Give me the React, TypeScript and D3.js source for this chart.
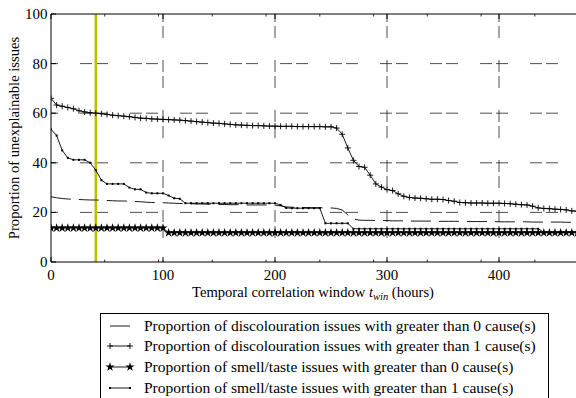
import React from 'react'
import * as d3 from 'd3'

// sampling grid of the correlation window (hours)
const hours = d3.range(0, 475, 5)

const discolourationGt0 = [
  26.3, 25.9, 25.6, 25.4, 25.3, 25.2, 25.1, 25, 25, 24.9,
  24.8, 24.7, 24.6, 24.6, 24.5, 24.4, 24.3, 24.1, 24, 23.9,
  23.9, 23.8, 23.7, 23.6, 23.5, 23.5, 23.4, 23.4, 23.3, 23.3,
  23.2, 23.2, 23.1, 23.1, 23.1, 23, 23, 23, 23, 23,
  22.9, 22.6, 22.2, 22.1, 22, 22, 21.9, 21.9, 21.9, 21.8,
  21.8, 21.6, 21, 19, 17.3, 16.9, 16.8, 16.8, 16.7, 16.7,
  16.7, 16.6, 16.6, 16.6, 16.5, 16.5, 16.5, 16.5, 16.5, 16.4,
  16.4, 16.4, 16.4, 16.4, 16.3, 16.3, 16.3, 16.3, 16.3, 16.3,
  16.2, 16.2, 16.2, 16.2, 16.2, 16.2, 16.1, 16.1, 16.1, 16.1,
  16.1, 16.1, 16, 16, 16,
]

const discolourationGt1 = [
  66, 63.3, 62.8, 62.3, 61.8, 61, 60.5, 60.2, 60, 59.8,
  59.5, 59.2, 59, 58.8, 58.6, 58.3, 58, 57.9, 57.7, 57.6,
  57.5, 57.4, 57.3, 57.2, 57, 56.8, 56.6, 56.4, 56.2, 56,
  55.9, 55.7, 55.5, 55.3, 55.2, 55.1, 55, 55, 54.9, 54.8,
  54.8, 54.7, 54.7, 54.7, 54.6, 54.6, 54.6, 54.6, 54.6, 54.5,
  54.5, 54, 51.5, 46, 41, 38.5, 38.2, 35, 31.5, 30.2,
  29.2, 28.8, 27.5, 26.5, 26, 25.8, 25.7, 25.5, 25.3, 25.3,
  25.2, 24.8, 24.5, 24, 23.9, 23.8, 23.8, 23.8, 23.7, 23.7,
  23.7, 23.6, 23.5, 23.3, 23.1, 23, 22.5, 21.8, 21.6, 21.5,
  21.3, 21.2, 21, 20.6, 20.5,
]

const smellTasteGt0 = [
  13.7, 13.7, 13.7, 13.7, 13.7, 13.7, 13.7, 13.7, 13.7, 13.7,
  13.7, 13.7, 13.7, 13.7, 13.7, 13.7, 13.7, 13.7, 13.7, 13.7,
  13.7, 11.8, 11.8, 11.8, 11.8, 11.8, 11.8, 11.8, 11.8, 11.8,
  11.8, 11.8, 11.8, 11.8, 11.8, 11.8, 11.8, 11.8, 11.8, 11.8,
  11.8, 11.8, 11.8, 11.8, 11.8, 11.8, 11.8, 11.8, 11.8, 11.8,
  11.8, 11.8, 11.8, 11.8, 11.8, 11.8, 11.8, 11.8, 11.8, 11.8,
  11.8, 11.8, 11.8, 11.8, 11.8, 11.8, 11.8, 11.8, 11.8, 11.8,
  11.8, 11.8, 11.8, 11.8, 11.8, 11.8, 11.8, 11.8, 11.8, 11.8,
  11.8, 11.8, 11.8, 11.8, 11.8, 11.8, 11.8, 11.8, 11.8, 11.8,
  11.8, 11.8, 11.8, 11.8, 11.8,
]

const smellTasteGt1 = [
  53.5, 51, 45, 42, 41.2, 41.2, 41.2, 40, 37, 33,
  31.5, 31.5, 31.5, 31.5, 30, 29.3, 29.3, 28, 27.7, 27.7,
  27.7, 26.8, 25.7, 25.5, 23.7, 23.7, 23.7, 23.7, 23.7, 23.7,
  23.7, 23.7, 23.7, 23.7, 23.7, 23.7, 23.7, 23.7, 23.7, 23.7,
  23.7, 23, 21.8, 21.7, 21.7, 21.7, 21.7, 21.7, 21.7, 15.6,
  15.6, 15.6, 15.6, 15.6, 13.4, 13.4, 13.4, 13.4, 13.4, 13.4,
  13.4, 13.4, 13.4, 13.4, 13.4, 13.4, 13.4, 13.4, 13.4, 13.4,
  13.4, 13.4, 13.4, 13.4, 13.4, 13.4, 13.4, 13.4, 13.4, 13.4,
  13.4, 13.4, 13.4, 13.4, 13.4, 13.4, 13.4, 13.4, 12, 12,
  12, 12, 12, 12, 12,
]

const xTicks = [0, 100, 200, 300, 400]
const xMinorTicks = [48, 96, 144, 192, 240, 288, 336, 384, 432]
const yTicks = [0, 20, 40, 60, 80, 100]
const highlightHour = 40

const legendLabels = [
  'Proportion of discolouration issues with greater than 0 cause(s)',
  'Proportion of discolouration issues with greater than 1 cause(s)',
  'Proportion of smell/taste issues with greater than 0 cause(s)',
  'Proportion of smell/taste issues with greater than 1 cause(s)',
]

const W = 576
const H = 398
const font = "'Liberation Serif', 'DejaVu Serif', serif"

const x = d3.scaleLinear().domain([0, 470]).range([51, 577.4])
const y = d3.scaleLinear().domain([0, 100]).range([262, 14])

const line = d3
  .line<number>()
  .x((_, i) => x(hours[i]))
  .y((d) => y(d))

const starPath = d3.symbol(d3.symbolStar, 26)() as string
const plusPath = 'M-3,0H3M0,-3V3'

const Marker = ({ kind, cx, cy }: { kind: string; cx: number; cy: number }) => {
  if (kind === 'plus')
    return <path d={plusPath} transform={`translate(${cx},${cy})`} stroke="#000" strokeWidth={0.9} fill="none" />
  if (kind === 'star') return <path d={starPath} transform={`translate(${cx},${cy})`} fill="#000" />
  if (kind === 'dot') return <rect x={cx - 1} y={cy - 1} width={2} height={2} fill="#000" />
  return null
}

const series = [
  { values: discolourationGt0, dash: '20,8', marker: 'none' },
  { values: discolourationGt1, dash: undefined, marker: 'plus' },
  { values: smellTasteGt0, dash: undefined, marker: 'star' },
  { values: smellTasteGt1, dash: undefined, marker: 'dot' },
]

export default function App() {
  const [x0, x1] = x.range()
  const [yb, yt] = y.range()
  const legendRowY = [326, 346, 367, 388]
  const tickFs = 15
  const labelFs = 14.6
  const legendFs = 15.5

  return (
    <div style={{ position: 'absolute', left: 0, top: 0 }}>
      <svg width={W} height={H} style={{ display: 'block', background: '#fff', fontFamily: font }}>
        <defs>
          <clipPath id="plot">
            <rect x={x0} y={yt - 4} width={x1 - x0 + 4} height={yb - yt + 8} />
          </clipPath>
        </defs>

        {/* grid */}
        {yTicks.slice(1, -1).map((t) => (
          <line key={'gy' + t} x1={x0} x2={x1} y1={y(t)} y2={y(t)} stroke="#222" strokeWidth={0.8}
            strokeDasharray="12,4,12,22" strokeDashoffset={21} />
        ))}
        {xTicks.slice(1).map((t) => (
          <line key={'gx' + t} x1={x(t)} x2={x(t)} y1={yb} y2={yt} stroke="#222" strokeWidth={0.8}
            strokeDasharray="12,4,12,22" strokeDashoffset={26} />
        ))}

        {/* highlighted window */}
        <line x1={x(highlightHour)} x2={x(highlightHour)} y1={yb} y2={yt} stroke="#bfbf00" strokeWidth={2.6} />

        {/* series */}
        <g clipPath="url(#plot)">
          {series.map((s, i) => (
            <g key={i}>
              <path d={line(s.values) as string} fill="none" stroke="#000" strokeWidth={0.9}
                strokeDasharray={s.dash} />
              {s.marker !== 'none' &&
                s.values.map((v, j) => <Marker key={j} kind={s.marker} cx={x(hours[j])} cy={y(v)} />)}
            </g>
          ))}
        </g>

        {/* spines */}
        <line x1={x0} x2={x0} y1={yb} y2={yt} stroke="#000" strokeWidth={1} />
        <line x1={x0} x2={x1} y1={yb} y2={yb} stroke="#000" strokeWidth={1} />
        <line x1={x0} x2={x1} y1={yt} y2={yt} stroke="#000" strokeWidth={1} />

        {/* ticks */}
        {xTicks.map((t) => (
          <g key={'xt' + t}>
            <line x1={x(t)} x2={x(t)} y1={yb} y2={yb - 5} stroke="#000" />
            <line x1={x(t)} x2={x(t)} y1={yt} y2={yt + 5} stroke="#000" />
            <text x={x(t)} y={279.5} textAnchor="middle" fontSize={tickFs}>{t}</text>
          </g>
        ))}
        {xMinorTicks.map((t) => (
          <g key={'xm' + t}>
            <line x1={x(t)} x2={x(t)} y1={yb} y2={yb - 2.5} stroke="#000" strokeWidth={0.8} />
            <line x1={x(t)} x2={x(t)} y1={yt} y2={yt + 2.5} stroke="#000" strokeWidth={0.8} />
          </g>
        ))}
        {yTicks.map((t) => (
          <g key={'yt' + t}>
            <line x1={x0} x2={x0 + 5} y1={y(t)} y2={y(t)} stroke="#000" />
            <text x={47.5} y={y(t) + 5} textAnchor="end" fontSize={tickFs}>{t}</text>
          </g>
        ))}

        {/* axis labels */}
        <text x={313} y={297} textAnchor="middle" fontSize={labelFs}>
          Temporal correlation window <tspan fontStyle="italic">t</tspan>
          <tspan fontStyle="italic" fontSize={10.5} dy={2.5}>win</tspan>
          <tspan dy={-2.5}> (hours)</tspan>
        </text>
        <text transform={`translate(18.5,${(yb + yt) / 2}) rotate(-90)`} textAnchor="middle" fontSize={labelFs}>
          Proportion of unexplainable issues
        </text>

        {/* legend */}
        <rect x={100.5} y={313.5} width={448} height={100} fill="#fff" stroke="#000" strokeWidth={1} />
        {legendLabels.map((lab, i) => {
          const s = series[i]
          const cy = legendRowY[i]
          return (
            <g key={lab}>
              <line x1={110} x2={130} y1={cy} y2={cy} stroke="#000" strokeWidth={0.9} strokeDasharray={s.dash} />
              {s.marker !== 'none' && (
                <>
                  <Marker kind={s.marker} cx={110} cy={cy} />
                  <Marker kind={s.marker} cx={130} cy={cy} />
                </>
              )}
              <text x={144} y={cy + 5} fontSize={legendFs}>{lab}</text>
            </g>
          )
        })}
      </svg>
    </div>
  )
}
